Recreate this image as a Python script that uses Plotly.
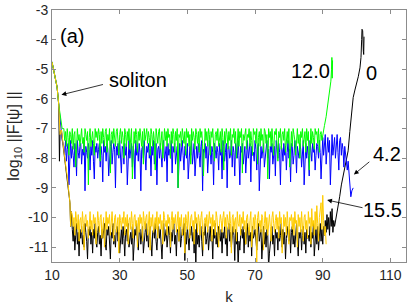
import numpy as np
import plotly.graph_objects as go

# ---------------- data ----------------
band_step = 0.25

# series "0" (black)
black_head_k = [10.0, 10.5, 11.0, 11.5, 12.0, 12.2, 12.4, 12.8, 13.2, 13.5, 14.0, 14.5, 15.0, 15.3, 15.5, 15.7]
black_head_v = [-4.75, -5.0, -5.25, -5.6, -6.2, -8.1, -7.1, -7.05, -7.5, -7.8, -8.2, -8.6, -9.2, -9.5, -10.3, -9.8]
black_band_k0 = 16.0
black_band_v = [
    -10.4, -10.8, -10.3, -11.1, -10.6, -10.2, -10.9, -10.5, -11.3, -10.4, -10.7, -10.3, -10.9, -10.6, -11.0, -10.2, -10.5, -10.8, -11.4, -10.4,
    -10.6, -10.3, -10.9, -10.5, -11.2, -10.4, -10.7, -10.2, -10.8, -11.0, -10.5, -10.3, -10.9, -10.6, -11.3, -10.4, -10.7, -10.5, -10.2, -10.9,
    -11.1, -10.4, -10.6, -10.3, -10.8, -11.4, -10.5, -10.7, -10.2, -10.9, -10.6, -11.0, -10.4, -10.3, -10.8, -10.5, -11.2, -10.6, -10.4, -10.9,
    -10.3, -10.7, -11.3, -10.5, -10.4, -10.8, -10.2, -11.0, -10.6, -10.5, -10.9, -10.3, -11.45, -10.7, -10.4, -10.6, -10.2, -10.8, -11.1, -10.5,
    -10.4, -10.9, -10.6, -10.3, -11.2, -10.7, -10.5, -10.2, -10.8, -10.4, -11.0, -10.6, -10.3, -10.9, -11.3, -10.5, -10.4, -10.7, -10.2, -10.8,
    -11.1, -10.5, -10.3, -10.7, -10.4, -10.9, -11.4, -10.6, -10.2, -10.8, -10.5, -10.4, -11.0, -10.7, -10.3, -10.6, -11.2, -10.5, -10.8, -10.4,
    -10.2, -10.9, -10.6, -11.3, -10.4, -10.5, -10.8, -10.3, -11.0, -10.7, -10.4, -10.6, -10.2, -11.45, -10.5, -10.9, -10.3, -10.7, -11.1, -10.4,
    -10.6, -10.3, -10.8, -10.5, -11.2, -10.4, -11.7, -10.2, -10.9, -10.6, -11.0, -10.4, -10.3, -10.8, -11.3, -10.5, -10.6, -10.2, -10.9, -10.7,
    -10.4, -11.1, -10.5, -10.3, -10.8, -10.6, -11.4, -10.4, -10.7, -10.2, -10.9, -10.5, -11.0, -10.3, -10.6, -10.8, -10.4, -11.2, -10.5, -10.7,
    -10.3, -10.9, -10.6, -11.3, -10.4, -10.2, -10.8, -10.5, -11.0, -10.7, -10.3, -10.6, -11.45, -10.4, -10.9, -10.5, -11.7, -10.8, -11.1, -10.6,
    -10.4, -10.7, -10.3, -11.2, -10.5, -10.9, -10.6, -10.2, -11.0, -10.4, -10.8, -10.5, -11.3, -10.3, -10.7, -10.6, -10.4, -10.9, -11.1, -10.5,
    -10.2, -10.8, -10.6, -10.4, -11.4, -10.7, -10.3, -10.9, -10.5, -11.0, -10.4, -10.6, -11.7, -11.2, -10.8, -10.5, -10.3, -10.9, -10.6, -11.3,
    -10.4, -10.7, -10.5, -11.1, -10.3, -10.8, -10.6, -10.2, -11.0, -10.4, -10.9, -10.5, -11.4, -10.7, -10.3, -10.6, -10.8, -10.4, -11.2, -10.5,
    -10.3, -10.9, -10.6, -11.0, -10.4, -10.2, -10.8, -11.3, -10.5, -10.7, -10.4, -11.1, -10.6, -10.3, -10.9, -10.5, -11.2, -10.4, -10.7, -10.6,
    -10.8, -10.3, -11.0, -10.5, -10.7, -10.2, -11.3, -10.6, -10.4, -10.9, -10.3, -11.1, -10.5, -10.2, -10.8, -10.4, -10.9, -10.3, -10.6, -10.1,
    -10.5, -9.9, -10.4, -10.0, -10.6, -9.8, -10.3, -9.7, -10.5, -10.1, -10.3,
]
black_tail_k = [94.0, 94.5, 95.0, 95.5, 96.0, 96.5, 97.0, 97.5, 98.0, 98.5, 99.0, 99.5,
                100.0, 100.5, 101.0, 101.3, 101.5, 101.6, 101.8, 102.0, 102.1, 102.2]
black_tail_v = [-10.0, -9.7, -9.3, -8.9, -8.6, -8.3, -8.05, -7.75, -7.1, -6.4, -5.95, -5.7,
                -5.5, -5.25, -4.95, -4.6, -4.0, -3.65, -3.7, -4.4, -4.5, -3.9]

# series "4.2" (blue)
blue_head_k = [10.0, 10.5, 11.0, 11.5, 12.0, 12.5, 13.0]
blue_head_v = [-4.75, -5.0, -5.25, -5.6, -6.2, -6.7, -7.4]
blue_band_k0 = 13.5
blue_band_v = [
    -7.6, -7.9, -7.4, -8.1, -7.7, -7.5, -8.9, -7.8, -7.4, -8.0, -7.6, -7.9, -8.3, -7.5, -7.7, -8.6, -7.4, -7.8, -8.0, -7.6,
    -7.5, -8.2, -7.7, -7.9, -7.4, -9.1, -7.6, -7.8, -8.0, -7.5, -7.7, -8.4, -7.6, -7.9, -7.4, -8.1, -8.7, -7.6, -7.8, -7.5,
    -8.0, -7.7, -7.5, -8.3, -7.6, -7.9, -8.8, -7.4, -7.8, -7.6, -8.1, -7.5, -7.7, -8.6, -7.9, -7.6, -7.4, -8.2, -7.8, -7.5,
    -7.7, -9.0, -7.6, -7.9, -7.5, -8.0, -7.4, -7.8, -8.5, -7.6, -7.7, -8.2, -7.5, -7.9, -7.6, -8.9, -7.8, -7.4, -8.0, -7.7,
    -7.5, -8.3, -7.6, -7.8, -8.7, -7.4, -7.9, -7.6, -8.1, -7.5, -7.8, -9.1, -7.7, -7.6, -8.0, -7.4, -7.9, -8.4, -7.6, -7.8,
    -7.5, -8.0, -7.7, -8.6, -7.6, -7.9, -7.4, -8.2, -7.8, -7.5, -8.9, -7.7, -7.6, -8.0, -7.5, -7.9, -8.3, -7.6, -7.4, -8.1,
    -7.8, -7.6, -8.8, -7.5, -7.9, -7.7, -8.0, -7.4, -8.5, -7.6, -7.8, -7.5, -8.2, -7.9, -7.6, -9.0, -7.7, -7.5, -8.1, -7.8,
    -7.4, -7.9, -8.4, -7.6, -7.7, -8.0, -7.5, -8.7, -7.8, -7.6, -7.9, -7.4, -8.2, -7.7, -7.5, -8.6, -7.8, -7.6, -8.0, -7.5,
    -7.9, -8.3, -7.6, -7.4, -9.1, -7.7, -7.8, -7.5, -8.0, -7.6, -8.5, -7.9, -7.4, -7.7, -8.2, -7.6, -7.8, -8.9, -7.5, -7.7,
    -8.0, -7.6, -7.8, -8.4, -7.5, -7.9, -7.7, -8.7, -7.4, -7.6, -8.1, -7.8, -7.5, -9.0, -7.7, -7.6, -8.0, -7.9, -7.4, -8.3,
    -7.6, -7.8, -8.6, -7.5, -7.7, -8.0, -7.4, -7.9, -8.9, -7.6, -7.8, -7.5, -8.2, -7.7, -7.6, -8.5, -7.9, -7.4, -8.0, -7.7,
    -7.5, -8.8, -7.6, -7.9, -7.8, -8.1, -7.4, -7.7, -8.4, -7.6, -7.5, -9.1, -7.8, -7.6, -8.0, -7.7, -7.5, -8.3, -7.9, -7.6,
    -7.4, -8.0, -7.7, -8.7, -7.6, -7.8, -7.5, -8.2, -7.9, -7.6, -8.6, -7.4, -7.7, -8.0, -7.5, -7.8, -8.9, -7.6, -7.7, -8.1,
    -7.5, -7.9, -7.6, -8.4, -7.8, -7.4, -8.0, -7.7, -8.8, -7.5, -7.6, -8.2, -7.9, -7.4, -7.7, -8.5, -7.6, -7.8, -8.0, -7.5,
    -7.7, -8.3, -7.6, -7.4, -8.9, -7.8, -7.5, -8.0, -7.6, -7.9, -8.6, -7.4, -7.7, -8.1, -7.5, -7.8, -7.6, -8.4, -7.9, -7.5,
    -7.6, -8.0, -7.4, -7.8, -8.7, -7.5, -7.3, -7.9, -7.6, -7.2, -8.2, -7.5, -7.3, -7.8, -7.4, -8.9, -7.6, -7.2, -7.9, -7.5,
    -7.3, -8.0, -7.6, -7.2, -7.8, -8.4, -7.4, -7.3, -7.9, -7.5, -7.7, -8.3, -7.6, -7.9, -8.1,
]
blue_tail_k = [97.25, 97.5, 97.75, 98.0, 98.3, 98.6, 99.0]
blue_tail_v = [-8.4, -8.1, -8.5, -8.8, -9.3, -9.1, -9.0]

# series "12.0" (green)
green_head_k = [10.0, 10.5, 11.0, 11.5, 12.0, 12.5, 13.0]
green_head_v = [-4.75, -5.0, -5.25, -5.6, -6.2, -6.7, -7.0]
green_band_k0 = 13.5
green_band_v = [
    -7.0, -7.4, -7.1, -7.6, -7.0, -7.3, -7.9, -7.1, -7.2, -7.5, -7.0, -7.7, -7.2, -7.1, -8.3, -7.3, -7.0, -7.4, -7.2, -7.6,
    -7.1, -7.0, -7.5, -7.3, -7.8, -7.0, -7.2, -7.4, -7.1, -8.9, -7.3, -7.0, -7.6, -7.2, -7.1, -7.5, -7.9, -7.0, -7.3, -7.1,
    -7.4, -7.0, -7.2, -8.1, -7.1, -7.5, -7.0, -7.3, -7.6, -7.1, -7.0, -7.8, -7.2, -7.4, -7.0, -8.5, -7.2, -7.1, -7.5, -7.0,
    -7.3, -7.6, -7.1, -7.0, -7.4, -7.9, -7.2, -7.0, -7.5, -7.1, -7.3, -8.0, -7.0, -7.2, -7.6, -7.1, -7.4, -7.0, -7.7, -7.2,
    -7.0, -8.7, -7.3, -7.1, -7.5, -7.0, -7.2, -7.8, -7.1, -7.4, -7.0, -7.3, -7.6, -7.1, -8.2, -7.0, -7.4, -7.2, -7.0, -7.5,
    -7.1, -7.3, -7.9, -7.0, -7.2, -7.6, -7.1, -7.4, -8.4, -7.0, -7.2, -7.5, -7.1, -7.0, -7.7, -7.3, -7.1, -8.0, -7.2, -7.0,
    -7.4, -7.1, -7.6, -7.0, -7.3, -7.2, -8.0, -7.1, -7.5, -7.0, -7.2, -7.8, -7.1, -7.4, -7.0, -9.0, -7.2, -7.3, -7.1, -7.6,
    -7.0, -7.2, -7.5, -7.1, -7.9, -7.0, -7.3, -7.1, -7.6, -7.2, -8.2, -7.0, -7.4, -7.1, -7.3, -7.7, -7.0, -7.2, -7.5, -7.1,
    -7.8, -7.0, -7.3, -7.1, -7.5, -8.6, -7.2, -7.0, -7.4, -7.1, -7.6, -7.0, -7.2, -7.9, -7.1, -7.3, -7.0, -7.5, -8.1, -7.2,
    -7.1, -7.4, -7.0, -7.6, -7.2, -7.1, -7.8, -7.0, -7.3, -8.4, -7.1, -7.5, -7.0, -7.2, -7.7, -7.1, -7.4, -7.0, -7.9, -7.2,
    -7.3, -7.0, -7.5, -7.1, -8.0, -7.2, -7.0, -7.6, -7.1, -7.3, -7.0, -8.5, -7.2, -7.4, -7.1, -7.0, -7.7, -7.2, -7.3, -7.0,
    -7.6, -7.1, -7.4, -7.9, -7.0, -7.2, -7.1, -7.5, -7.0, -8.2, -7.3, -7.1, -7.6, -7.0, -7.4, -7.2, -7.8, -7.0, -7.1, -7.5,
    -7.2, -8.7, -7.0, -7.3, -7.1, -7.6, -7.0, -7.4, -7.9, -7.1, -7.2, -7.0, -7.5, -8.1, -7.1, -7.3, -7.0, -7.7, -7.2, -7.1,
    -7.4, -7.0, -7.8, -7.2, -7.1, -7.5, -7.0, -8.3, -7.3, -7.1, -7.6, -7.0, -7.2, -7.4, -7.9, -7.1, -7.0, -7.5, -7.2, -8.0,
    -7.1, -7.3, -7.0, -7.6, -7.2, -7.1, -7.8, -7.0, -7.4, -7.1, -8.4, -7.2, -7.0, -7.5, -7.1, -7.3, -7.7, -7.0, -7.2, -7.1,
    -7.5, -7.0, -7.8, -7.2, -7.1, -7.4, -7.2,
]
green_tail_k = [90.5, 91.0, 91.5, 92.0, 92.4, 92.6, 92.7, 92.8, 92.9]
green_tail_v = [-6.9, -6.6, -6.2, -5.8, -5.4, -5.0, -4.6, -5.3, -4.7]

# series "15.5" (gold)
gold_head_k = [10.0, 10.5, 11.0, 11.5, 12.0, 12.4, 12.8, 13.2, 13.5, 14.0, 14.5, 15.0, 15.3, 15.5, 15.7]
gold_head_v = [-4.75, -5.0, -5.25, -5.6, -6.2, -7.2, -7.05, -7.5, -7.8, -8.2, -8.6, -9.2, -9.5, -10.3, -9.8]
gold_band_k0 = 16.0
gold_band_v = [
    -9.9, -10.3, -10.0, -10.6, -9.8, -10.2, -10.4, -9.9, -10.8, -10.1, -10.0, -10.5, -9.8, -10.2, -11.1, -10.0, -9.9, -10.3, -10.1, -10.7,
    -10.0, -9.8, -10.4, -10.1, -10.6, -9.9, -10.2, -10.0, -10.9, -10.3, -9.8, -10.1, -10.5, -10.0, -9.9, -10.7, -10.2, -10.0, -11.0, -10.1,
    -9.8, -10.4, -10.0, -10.2, -9.9, -10.6, -10.1, -9.8, -10.3, -10.8, -10.0, -9.9, -10.5, -10.2, -10.0, -11.2, -9.9, -10.1, -10.4, -10.0,
    -10.2, -9.8, -10.6, -10.0, -10.3, -9.9, -10.9, -10.1, -10.0, -10.4, -9.8, -10.2, -10.7, -10.0, -9.9, -10.3, -10.1, -11.0, -10.0, -10.5,
    -9.9, -10.2, -10.0, -10.8, -9.8, -10.1, -10.4, -10.0, -9.9, -10.6, -10.2, -9.8, -11.1, -10.0, -10.3, -9.9, -10.5, -10.1, -10.0, -10.4,
    -9.8, -10.7, -10.0, -10.2, -9.9, -10.4, -10.1, -10.9, -9.8, -10.0, -10.3, -10.1, -10.6, -9.9, -10.2, -10.0, -11.0, -10.1, -9.8, -10.4,
    -10.0, -10.2, -9.9, -10.5, -10.1, -9.8, -10.8, -10.0, -10.3, -9.9, -10.6, -10.2, -10.0, -11.2, -9.9, -10.1, -10.4, -9.8, -10.2, -10.7,
    -10.0, -9.9, -10.3, -10.1, -10.9, -9.8, -10.2, -10.0, -10.5, -9.9, -10.1, -10.6, -10.0, -9.8, -10.4, -11.1, -10.1, -10.0, -10.3, -9.9,
    -10.5, -10.1, -9.8, -10.2, -10.0, -10.8, -9.9, -10.3, -10.1, -10.6, -9.8, -10.0, -10.4, -11.0, -10.2, -9.9, -10.1, -10.5, -10.0, -9.8,
    -10.3, -10.0, -10.7, -9.9, -10.1, -10.4, -9.8, -10.2, -11.2, -10.0, -9.9, -10.5, -10.1, -10.0, -10.8, -9.8, -10.2, -10.3, -9.9, -10.6,
    -10.0, -10.2, -9.8, -10.4, -10.1, -10.9, -10.0, -9.9, -10.3, -10.6, -10.1, -9.8, -11.0, -10.2, -10.0, -10.4, -9.9, -10.1, -11.6, -10.0,
    -9.8, -10.3, -10.1, -10.5, -9.9, -10.0, -11.1, -10.2, -9.8, -10.4, -10.0, -10.6, -10.1, -9.9, -10.3, -10.8, -10.0, -9.8, -10.2, -10.5,
    -10.1, -9.9, -10.4, -10.0, -10.7, -9.8, -10.2, -10.0, -11.2, -10.1, -9.9, -10.3, -10.0, -10.6, -9.8, -10.2, -10.9, -10.0, -10.1, -9.9,
    -10.4, -10.0, -10.6, -9.8, -10.2, -10.1, -11.0, -9.9, -10.3, -10.0, -10.5, -9.8, -10.2, -10.8, -10.0, -9.9, -10.4, -10.1, -10.7, -9.8,
    -10.2, -10.0, -10.9, -9.7, -10.3, -10.1, -10.6, -9.8, -10.4, -9.6, -10.2, -10.8, -10.0, -9.7, -9.5, -10.4, -9.25, -10.1, -10.6, -10.3,
    -10.9,
]

x_tick_vals = [10, 30, 50, 70, 90, 110]
x_tick_text = ["10", "30", "50", "70", "90", "110"]
y_tick_vals = [-3, -4, -5, -6, -7, -8, -9, -10, -11]
y_tick_text = ["-3", "-4", "-5", "-6", "-7", "-8", "-9", "-10", "-11"]

FONT = "Liberation Sans, Arial, sans-serif"


def build(head_k, head_v, k0, band_v, tail_k=(), tail_v=()):
    band_k = k0 + band_step * np.arange(len(band_v))
    k = np.concatenate([head_k, band_k, tail_k])
    v = np.concatenate([head_v, band_v, tail_v])
    return k, v


series = [
    (build(black_head_k, black_head_v, black_band_k0, black_band_v, black_tail_k, black_tail_v), "#000000"),
    (build(blue_head_k, blue_head_v, blue_band_k0, blue_band_v, blue_tail_k, blue_tail_v), "#0000ff"),
    (build(green_head_k, green_head_v, green_band_k0, green_band_v, green_tail_k, green_tail_v), "#00ff00"),
    (build(gold_head_k, gold_head_v, gold_band_k0, gold_band_v), "#ffcc00"),
]

fig = go.Figure()
for (k, v), col in series:
    fig.add_trace(go.Scatter(x=k, y=v, mode="lines", line=dict(color=col, width=1),
                             showlegend=False, hoverinfo="skip"))

axis_common = dict(
    showline=True, linecolor="#8c8c8c", linewidth=1, mirror="ticks",
    ticks="inside", ticklen=4, tickcolor="#8c8c8c", showgrid=False, zeroline=False,
    tickfont=dict(family=FONT, size=14, color="#262626"), ticklabeloverflow="allow",
)
fig.update_xaxes(range=[10, 114.6], tickvals=x_tick_vals, ticktext=x_tick_text,
                 title=dict(text="k", font=dict(family=FONT, size=15, color="#262626"), standoff=10),
                 **axis_common)
fig.update_yaxes(range=[-11.5, -3], tickvals=y_tick_vals, ticktext=y_tick_text,
                 title=dict(text="log<sub>10</sub> ||F[ψ] ||", font=dict(family=FONT, size=16, color="#262626"),
                            standoff=4),
                 **axis_common)

texts = [
    ("(a)", 15.8, -3.86, 20),
    ("soliton", 35.5, -5.36, 20),
    ("12.0", 86.3, -5.06, 20),
    ("0", 104.5, -5.13, 20),
    ("4.2", 109.0, -7.85, 20),
    ("15.5", 107.8, -9.74, 20),
]
for t, x, y, s in texts:
    fig.add_annotation(x=x, y=y, text=t, showarrow=False, xref="x", yref="y",
                       font=dict(family=FONT, size=s, color="#000000"))

arrows = [
    ((12.8, -5.86), (25.5, -5.5)),
    ((99.2, -8.55), (104.2, -8.08)),
    ((91.3, -9.41), (102.2, -9.68)),
]
for (hx, hy), (tx, ty) in arrows:
    fig.add_annotation(x=hx, y=hy, ax=tx, ay=ty, xref="x", yref="y", axref="x", ayref="y",
                       text="", showarrow=True, arrowhead=2, arrowsize=1.2, arrowwidth=0.8,
                       arrowcolor="#000000")

fig.update_layout(
    width=409, height=305,
    margin=dict(l=52, r=2, t=6, b=43),
    plot_bgcolor="white", paper_bgcolor="white",
    font=dict(family=FONT),
)

fig.write_html("out.html", config={"displayModeBar": False},
               post_script="document.body.style.margin='0';")
